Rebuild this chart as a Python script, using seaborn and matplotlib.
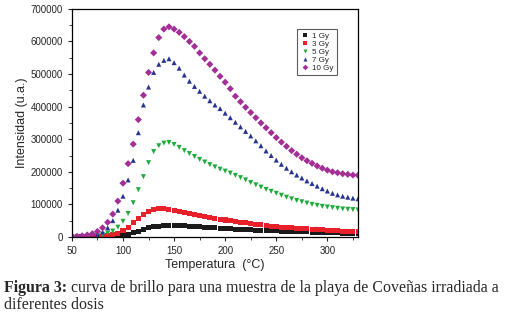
import numpy as np
import pandas as pd
import seaborn as sns
import matplotlib
matplotlib.use("Agg")
import matplotlib.pyplot as plt
from matplotlib.ticker import MultipleLocator

# Temperature grid (°C), every 5 degrees
temperatura = np.arange(50, 331, 5)

# Intensity readings (u.a.) per dose
gy1 = [100, 150, 200, 300, 400, 600, 900, 1500, 2500, 4000,
       6000, 9000, 13000, 18000, 23000, 28000, 31000, 33500, 35000, 35500,
       35500, 35000, 34000, 33000, 32000, 31000, 30000, 29000, 28000, 27000,
       26000, 25000, 24000, 23000, 22500, 22000, 21000, 20500, 20000, 19000,
       18500, 18000, 17500, 17000, 16500, 16000, 15500, 15000, 14500, 14000,
       13500, 13000, 12500, 12000, 12000, 11500, 11000]
gy3 = [200, 300, 500, 700, 1000, 1500, 2500, 4000, 7000, 12000,
       19000, 30000, 44000, 57000, 69000, 78000, 85000, 88000, 87000, 85000,
       82000, 79000, 76000, 73000, 70000, 67000, 64000, 61000, 58000, 55000,
       52000, 49500, 47000, 45000, 43000, 41000, 39000, 37000, 35000, 33500,
       32000, 30500, 29000, 28000, 27000, 25500, 24500, 23500, 22500, 21500,
       20500, 19500, 18500, 18000, 17500, 17000, 16500]
gy5 = [300, 600, 1000, 1500, 2500, 4000, 7000, 12000, 18000, 30000,
       48000, 72000, 105000, 145000, 185000, 228000, 262000, 280000, 288000, 290000,
       284000, 275000, 265000, 256000, 247000, 238000, 230000, 222000, 215000, 208000,
       202000, 196000, 189000, 182000, 175000, 167000, 160000, 153000, 146000, 140000,
       134000, 128000, 122000, 117000, 112000, 108000, 104000, 100000, 97000, 94000,
       92000, 90000, 88000, 86000, 85000, 84000, 83000]
gy7 = [500, 1000, 1500, 2500, 4000, 8000, 15000, 28000, 50000, 82000,
       125000, 175000, 235000, 320000, 405000, 460000, 505000, 530000, 542000, 547000,
       535000, 518000, 497000, 478000, 462000, 447000, 432000, 418000, 405000, 394000,
       380000, 366000, 352000, 338000, 324000, 310000, 295000, 280000, 264000, 250000,
       236000, 223000, 211000, 200000, 190000, 181000, 172000, 164000, 156000, 148000,
       141000, 134000, 129000, 125000, 122000, 119000, 117000]
gy10 = [1000, 2000, 3500, 6000, 10000, 17000, 28000, 45000, 70000, 110000,
        165000, 225000, 285000, 360000, 435000, 505000, 565000, 612000, 638000, 645000,
        638000, 628000, 615000, 600000, 585000, 565000, 547000, 530000, 512000, 493000,
        475000, 455000, 432000, 415000, 398000, 382000, 366000, 350000, 335000, 320000,
        305000, 291000, 278000, 265000, 254000, 243000, 234000, 226000, 218000, 211000,
        205000, 200000, 197000, 194000, 192000, 190000, 189000]

dosis = ["1 Gy", "3 Gy", "5 Gy", "7 Gy", "10 Gy"]
series = [gy1, gy3, gy5, gy7, gy10]
colores = ["#1a1a1a", "#e8202a", "#1faa3c", "#27348f", "#a32f96"]
marcadores = ["s", "s", "v", "^", "D"]

df = pd.concat([pd.DataFrame({"T": temperatura, "I": s, "dosis": d})
                for d, s in zip(dosis, series)], ignore_index=True)

sns.set_style("ticks")
plt.rcParams["font.family"] = ["Liberation Sans", "DejaVu Sans"]

fig = plt.figure(figsize=(5.1, 3.3), dpi=100)
ax = fig.add_axes([0.141, 0.282, 0.561, 0.691])

sns.scatterplot(data=df, x="T", y="I", hue="dosis", style="dosis",
                palette=colores, markers=marcadores, hue_order=dosis,
                style_order=dosis, s=13, linewidth=0, ax=ax)

ax.set_xlim(50, 330)
ax.set_ylim(0, 700000)
ax.xaxis.set_major_locator(MultipleLocator(50))
ax.xaxis.set_minor_locator(MultipleLocator(25))
ax.yaxis.set_major_locator(MultipleLocator(100000))
ax.yaxis.set_minor_locator(MultipleLocator(50000))
ax.tick_params(which="major", labelsize=7, length=3, width=0.8, direction="out")
ax.tick_params(which="minor", length=2, width=0.6, direction="out")
for sp in ax.spines.values():
    sp.set_linewidth(0.9)
    sp.set_color("black")
ax.set_xlabel("Temperatura  (°C)", fontsize=9, labelpad=2)
ax.set_ylabel("Intensidad (u.a.)", fontsize=9, labelpad=2)

leg = ax.legend(loc="upper right", bbox_to_anchor=(0.94, 0.93), fontsize=5.8,
                frameon=True, fancybox=False, markerscale=0.8, handletextpad=0.3,
                borderpad=0.4, labelspacing=0.05, handlelength=1.2)
leg.get_frame().set_edgecolor("#333333")
leg.get_frame().set_linewidth(0.8)

# caption below the chart
fs = 11.4
serif = ["Liberation Serif", "DejaVu Serif"]
t1 = fig.text(0.008, 0.115, "Figura 3:", fontsize=fs, fontweight="bold",
              family=serif, va="baseline")
fig.canvas.draw()
bb = t1.get_window_extent()
x2 = (bb.x1 + 4) / fig.bbox.width
fig.text(x2, 0.115, "curva de brillo para una muestra de la playa de Coveñas irradiada a",
         fontsize=fs, family=serif, va="baseline")
fig.text(0.008, 0.065, "diferentes dosis", fontsize=fs, family=serif, va="baseline")

fig.savefig("out.png", dpi=100)
